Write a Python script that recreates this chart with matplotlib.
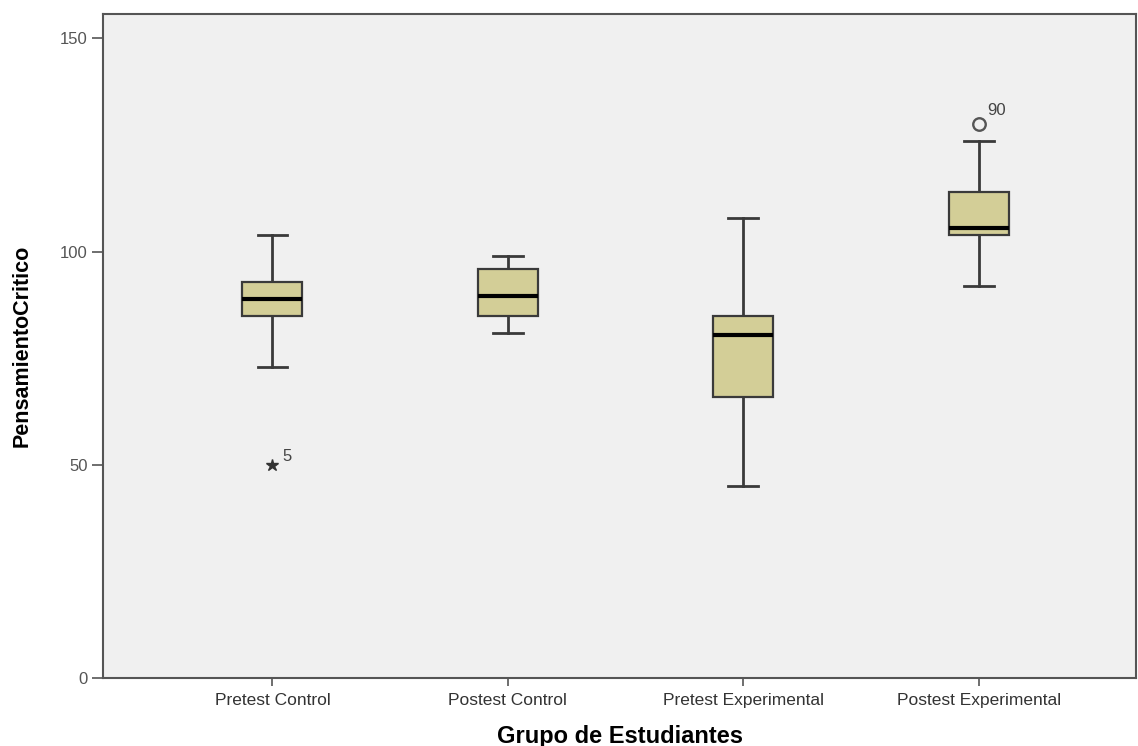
import matplotlib
matplotlib.use("Agg")
import matplotlib.pyplot as plt

groups = ["Pretest Control", "Postest Control", "Pretest Experimental", "Postest Experimental"]
whislo = [73, 81, 45, 92]
q1 = [85, 85, 66, 104]
med = [89, 89.5, 80.5, 105.5]
q3 = [93, 96, 85, 114]
whishi = [104, 99, 108, 126]

# extreme values (star) and outliers (circle), with their case numbers
extreme_group, extreme_val, extreme_case = [0], [50], ["5"]
outlier_group, outlier_val, outlier_case = [3], [130], ["90"]

font = ["Liberation Sans", "DejaVu Sans"]

fig = plt.figure(figsize=(11.38, 7.46), dpi=100)
ax = fig.add_axes([0.0905, 0.091, 0.908, 0.89])
ax.set_facecolor("#f0f0f0")

stats = [dict(whislo=lo, q1=a, med=m, q3=b, whishi=hi, fliers=[], label=g)
         for g, lo, a, m, b, hi in zip(groups, whislo, q1, med, q3, whishi)]
pos = list(range(1, len(groups) + 1))
ax.bxp(stats, positions=pos, widths=0.255, patch_artist=True, showfliers=False,
       boxprops=dict(facecolor="#d3ce97", edgecolor="#3a3a3a", linewidth=1.6, zorder=3),
       medianprops=dict(color="black", linewidth=3, zorder=4),
       whiskerprops=dict(color="#3a3a3a", linewidth=2, zorder=2),
       capprops=dict(color="#3a3a3a", linewidth=2),
       capwidths=0.127)

for gi, v, c in zip(extreme_group, extreme_val, extreme_case):
    ax.plot(pos[gi], v, marker="*", color="#333333", markersize=9, linestyle="none")
    ax.annotate(c, (pos[gi], v), xytext=(7, 3), textcoords="offset points",
                fontsize=12, color="#444444", family=font)
for gi, v, c in zip(outlier_group, outlier_val, outlier_case):
    ax.plot(pos[gi], v, marker="o", markerfacecolor="none", markeredgecolor="#555555",
            markeredgewidth=1.7, markersize=9, linestyle="none")
    ax.annotate(c, (pos[gi], v), xytext=(6, 6), textcoords="offset points",
                fontsize=12, color="#444444", family=font)

ax.set_xlim(0.28, 4.67)
ax.set_ylim(0, 155.7)
ax.set_yticks([0, 50, 100, 150])
ax.set_xticks(pos)
ax.set_xticklabels(groups, family=font, fontsize=12.5, color="#333333")
ax.tick_params(axis="y", length=8, width=1.2, color="#555555", labelsize=12,
               labelcolor="#555555", pad=3)
ax.tick_params(axis="x", length=6, width=1.2, color="#555555", pad=5)
for lab in ax.get_yticklabels():
    lab.set_family(font)

for side in ["left", "bottom", "top", "right"]:
    ax.spines[side].set_color("#555555")
    ax.spines[side].set_linewidth(1.5)

ax.set_ylabel("PensamientoCritico", family=font, fontsize=15.5, fontweight="bold",
              labelpad=20)
ax.set_xlabel("Grupo de Estudiantes", family=font, fontsize=17, fontweight="bold",
              labelpad=12)

fig.savefig("out.png", dpi=100, facecolor="white")
